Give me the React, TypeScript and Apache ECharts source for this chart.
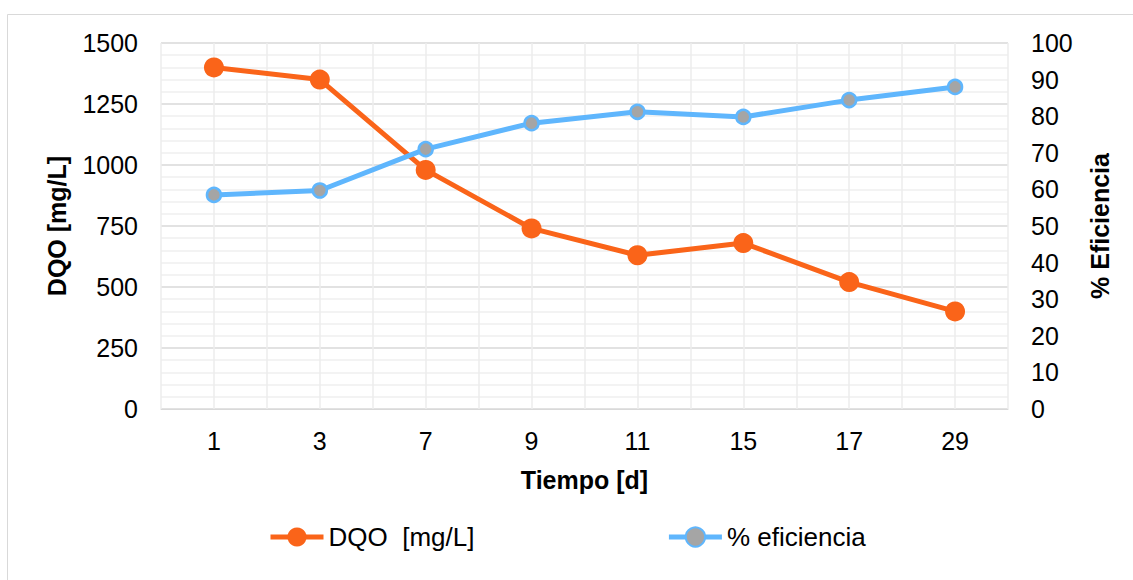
import React, { useEffect, useRef } from "react";
import * as echarts from "echarts";

const categories = ["1", "3", "7", "9", "11", "15", "17", "29"];
const dqoValues = [1400, 1350, 980, 740, 630, 680, 520, 400];
const efficiencyValues = [58.5, 59.7, 71.0, 78.1, 81.2, 79.8, 84.4, 88.0];
const leftTicks = { min: 0, max: 1500, interval: 250 };
const rightTicks = { min: 0, max: 100, interval: 10 };

const FONT = "'Liberation Sans', Arial, sans-serif";
const ORANGE = "#fa6419";
const BLUE = "#5fb6fd";
const GRAY = "#a5a5a5";

export default function App() {
  const ref = useRef<HTMLDivElement>(null);
  useEffect(() => {
    if (!ref.current) return;
    const chart = echarts.init(ref.current, null, { renderer: "svg" });
    chart.setOption({
      animation: false,
      backgroundColor: "#ffffff",
      textStyle: { fontFamily: FONT, color: "#000" },
      graphic: [
        {
          type: "rect",
          shape: { x: 7.5, y: 14.5, width: 1140, height: 600 },
          style: { fill: "none", stroke: "#d9d9d9", lineWidth: 1 },
          silent: true,
          z: -10,
        },
      ],
      grid: { left: 161, right: 125, top: 43, bottom: 171 },
      legend: {
        left: 263,
        top: 519,
        itemWidth: 53,
        itemHeight: 24,
        itemGap: 192,
        textStyle: { fontSize: 26, fontFamily: FONT, color: "#000" },
        data: [
          { name: "DQO  [mg/L]", lineStyle: { width: 5 } },
          { name: "% eficiencia", lineStyle: { width: 5 } },
        ],
      },
      xAxis: [
        {
          type: "category",
          data: categories,
          boundaryGap: true,
          axisLine: { show: true, lineStyle: { color: "#d9d9d9", width: 1 } },
          axisTick: { show: false },
          axisLabel: { fontSize: 25, color: "#000", margin: 19, fontFamily: FONT },
          splitLine: { show: false },
          name: "Tiempo [d]",
          nameLocation: "middle",
          nameGap: 58,
          nameTextStyle: { fontSize: 25, fontWeight: "bold", color: "#000", fontFamily: FONT },
        },
        {
          type: "value",
          min: 0,
          max: 16,
          interval: 1,
          show: true,
          position: "top",
          axisLine: { show: false },
          axisTick: { show: false },
          axisLabel: { show: false },
          splitLine: { show: true, lineStyle: { color: "#ececec", width: 1.5 } },
        },
      ],
      yAxis: [
        {
          type: "value",
          min: leftTicks.min,
          max: leftTicks.max,
          interval: leftTicks.interval,
          axisLine: { show: false },
          axisTick: { show: false },
          axisLabel: {
            fontSize: 25,
            color: "#000",
            margin: 23,
            fontFamily: FONT,
            formatter: (v: number) => String(v),
          },
          splitLine: { show: true, lineStyle: { color: "#d9d9d9", width: 1.5 } },
          minorTick: { show: false, splitNumber: 5 },
          minorSplitLine: { show: true, lineStyle: { color: "#efefef", width: 1.5 } },
          name: "DQO [mg/L]",
          nameLocation: "middle",
          nameGap: 92,
          nameTextStyle: { fontSize: 25, fontWeight: "bold", color: "#000", fontFamily: FONT },
        },
        {
          type: "value",
          min: rightTicks.min,
          max: rightTicks.max,
          interval: rightTicks.interval,
          position: "right",
          axisLine: { show: false },
          axisTick: { show: false },
          axisLabel: {
            fontSize: 25,
            color: "#000",
            margin: 23,
            fontFamily: FONT,
            formatter: (v: number) => String(v),
          },
          splitLine: { show: false },
          name: "% Eficiencia",
          nameLocation: "middle",
          nameGap: 79,
          nameTextStyle: { fontSize: 25, fontWeight: "bold", color: "#000", fontFamily: FONT },
        },
      ],
      series: [
        {
          name: "DQO  [mg/L]",
          type: "line",
          xAxisIndex: 0,
          yAxisIndex: 0,
          data: dqoValues,
          symbol: "circle",
          symbolSize: 20,
          lineStyle: { color: ORANGE, width: 5 },
          itemStyle: { color: ORANGE, borderColor: ORANGE, borderWidth: 0 },
          z: 3,
        },
        {
          name: "% eficiencia",
          type: "line",
          xAxisIndex: 0,
          yAxisIndex: 1,
          data: efficiencyValues,
          symbol: "circle",
          symbolSize: 14,
          lineStyle: { color: BLUE, width: 5 },
          itemStyle: { color: GRAY, borderColor: BLUE, borderWidth: 2.5 },
          z: 4,
        },
      ],
    });
    return () => chart.dispose();
  }, []);
  return (
    <div
      ref={ref}
      style={{ position: "absolute", left: 0, top: 0, width: 1133, height: 580 }}
    />
  );
}
